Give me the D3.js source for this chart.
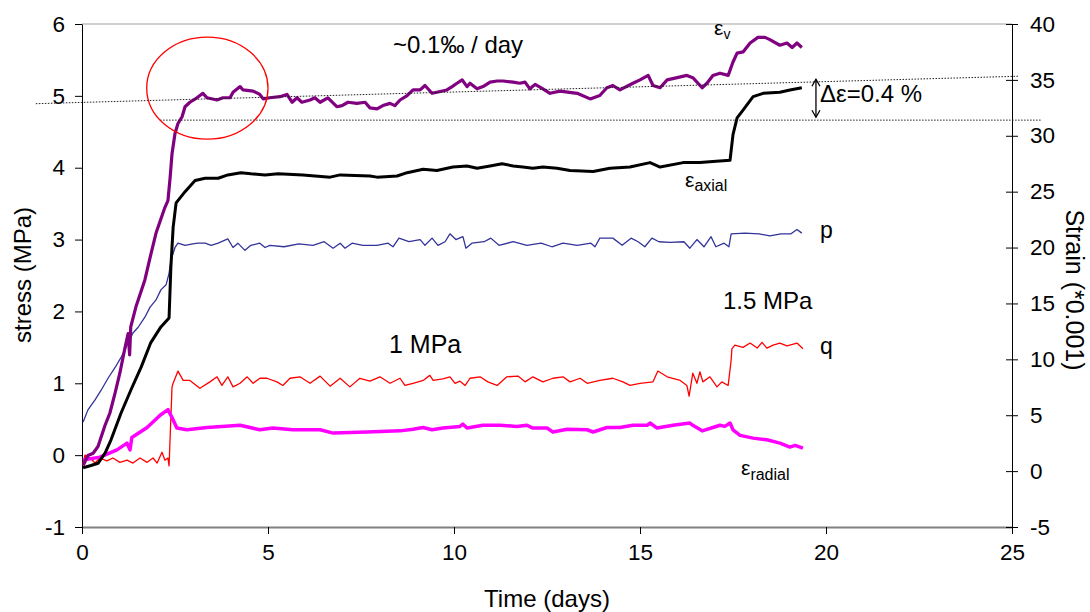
<!DOCTYPE html>
<html><head><meta charset="utf-8">
<script src="https://cdn.jsdelivr.net/npm/d3@7"></script>
<style>
body{margin:0;background:#fff}
svg{display:block}
text{font-family:"Liberation Sans",Arial,sans-serif;fill:#000}
</style>
</head><body>
<svg id="chart" width="1090" height="612"></svg>
<script>
// ---------- data ----------
const xTicks = [0, 5, 10, 15, 20, 25];
const stressTicks = [-1, 0, 1, 2, 3, 4, 5, 6];
const strainTicks = [-5, 0, 5, 10, 15, 20, 25, 30, 35, 40];

// volumetric strain (*0.001), right axis
const epsV = [[0.03,0.5],[0.16,1.4],[0.30,1.6],[0.43,2.2],[0.51,3.0],[0.62,4.1],[0.75,5.2],[0.89,7.0],[1.02,8.8],[1.16,11.1],[1.24,12.3],[1.28,10.4],[1.31,12.9],[1.45,14.7],[1.69,17.1],[1.83,19.1],[1.99,21.3],[2.23,23.6],[2.31,24.2],[2.37,26.3],[2.42,28.4],[2.50,30.2],[2.58,31.1],[2.69,31.7],[2.77,32.6],[2.90,33.0],[3.09,33.4],[3.25,33.8],[3.36,33.4],[3.63,33.2],[3.79,33.4],[3.98,33.4],[4.06,33.9],[4.25,34.4],[4.33,34.1],[4.60,34.0],[4.78,33.7],[4.87,33.3],[5.05,33.4],[5.32,33.5],[5.51,33.7],[5.65,33.0],[5.78,33.4],[5.91,33.0],[6.13,33.2],[6.26,33.4],[6.40,33.0],[6.61,33.4],[6.85,32.6],[6.99,32.7],[7.15,33.0],[7.39,32.9],[7.61,33.0],[7.74,32.5],[7.93,32.4],[8.09,32.7],[8.28,32.9],[8.41,32.7],[8.55,33.2],[8.74,33.6],[8.90,34.1],[9.09,34.1],[9.22,34.5],[9.41,33.8],[9.54,33.9],[9.81,34.1],[9.95,34.4],[10.08,34.7],[10.22,35.0],[10.35,34.4],[10.43,34.7],[10.62,34.2],[10.78,34.4],[10.97,34.8],[11.16,34.9],[11.32,34.9],[11.59,34.8],[11.77,34.7],[11.91,34.8],[12.04,34.2],[12.18,34.6],[12.39,34.2],[12.58,33.8],[12.85,34.0],[13.31,33.8],[13.66,33.3],[13.92,33.6],[14.11,34.3],[14.27,34.5],[14.46,34.1],[14.81,34.7],[15.00,35.0],[15.22,35.4],[15.35,34.5],[15.54,34.3],[15.73,35.0],[16.00,35.2],[16.26,35.4],[16.42,35.2],[16.67,34.3],[16.80,34.7],[16.96,35.4],[17.15,35.6],[17.37,35.4],[17.50,36.6],[17.61,37.4],[17.77,37.5],[17.96,38.3],[18.17,38.8],[18.36,38.8],[18.49,38.6],[18.76,38.1],[18.95,38.3],[19.09,37.9],[19.22,38.3],[19.35,37.9]];

// axial strain (*0.001), right axis
const epsAxial = [[0.03,0.3],[0.24,0.5],[0.43,0.7],[0.62,1.6],[0.78,2.8],[1.05,5.2],[1.32,7.3],[1.59,9.3],[1.85,11.5],[2.12,12.9],[2.34,13.7],[2.39,18.3],[2.45,21.8],[2.53,24.0],[2.77,25.0],[3.04,26.0],[3.31,26.2],[3.66,26.2],[3.92,26.5],[4.27,26.7],[4.54,26.6],[4.92,26.5],[5.27,26.6],[5.94,26.5],[6.67,26.3],[6.94,26.5],[7.74,26.4],[7.93,26.3],[8.47,26.4],[8.74,26.7],[9.17,27.0],[9.54,26.9],[9.97,27.2],[10.35,27.3],[10.62,27.1],[10.97,27.3],[11.29,27.5],[11.59,27.3],[11.85,27.2],[12.12,27.1],[12.39,27.2],[12.77,27.1],[13.12,26.9],[13.74,26.8],[14.19,27.1],[14.73,27.2],[15.27,27.6],[15.54,27.2],[16.16,27.6],[16.61,27.6],[16.96,27.7],[17.42,27.8],[17.50,30.1],[17.61,31.6],[17.77,32.3],[18.04,33.5],[18.31,33.8],[18.76,33.9],[19.03,34.1],[19.35,34.3]];

// radial strain (*0.001), right axis
const epsRadial = [[0.03,1.0],[0.48,1.25],[0.94,1.9],[1.21,2.5],[1.29,1.9],[1.34,3.0],[1.75,3.9],[2.10,5.0],[2.31,5.5],[2.42,4.8],[2.55,3.85],[2.82,3.7],[3.36,3.9],[4.25,4.1],[4.78,3.7],[5.13,3.85],[5.67,3.7],[6.40,3.7],[6.75,3.4],[7.66,3.5],[8.55,3.6],[8.90,3.75],[9.17,3.9],[9.41,3.7],[9.70,3.85],[10.16,4.0],[10.24,4.2],[10.35,3.85],[10.78,4.1],[11.24,4.1],[11.69,4.0],[11.96,4.1],[12.12,3.85],[12.50,3.85],[12.66,3.5],[13.04,3.75],[13.58,3.7],[13.74,3.5],[14.11,3.9],[14.46,3.9],[14.81,4.1],[15.19,4.1],[15.27,4.3],[15.46,3.85],[15.89,4.1],[16.34,4.3],[16.42,4.1],[16.67,3.6],[16.96,3.9],[17.15,4.1],[17.28,4.0],[17.42,4.3],[17.50,3.7],[17.69,3.2],[18.04,2.95],[18.41,2.8],[18.76,2.5],[19.03,2.15],[19.17,2.3],[19.38,2.05]];

// mean stress p (MPa), left axis
const pStress = [[0.03,0.46],[0.16,0.63],[0.35,0.77],[0.51,0.90],[0.70,1.07],[0.89,1.22],[1.05,1.36],[1.24,1.56],[1.37,1.70],[1.51,1.78],[1.69,1.92],[1.83,2.06],[1.99,2.16],[2.12,2.30],[2.26,2.37],[2.34,2.53],[2.39,2.71],[2.50,2.89],[2.58,2.95],[2.77,2.92],[2.98,2.94],[3.12,2.95],[3.31,2.95],[3.47,2.92],[3.66,2.95],[3.92,3.01],[4.06,2.89],[4.19,2.95],[4.38,2.85],[4.54,2.92],[4.78,2.95],[4.92,2.89],[5.05,2.92],[5.43,2.90],[5.83,2.94],[6.21,2.92],[6.51,2.97],[6.75,2.88],[6.94,2.95],[7.07,2.88],[7.26,2.95],[7.55,2.92],[7.93,2.92],[8.23,2.95],[8.36,2.90],[8.52,3.02],[8.79,2.97],[9.09,3.00],[9.22,2.92],[9.41,3.02],[9.57,2.92],[9.76,2.97],[9.89,3.08],[10.05,3.00],[10.24,3.04],[10.32,2.88],[10.48,2.95],[10.81,2.97],[10.99,3.02],[11.21,2.92],[11.59,2.97],[11.96,2.92],[12.34,2.95],[12.63,2.90],[12.93,2.95],[13.31,2.92],[13.68,2.95],[13.79,2.90],[13.92,3.02],[14.27,3.02],[14.52,2.92],[14.76,3.02],[14.95,2.97],[15.13,2.90],[15.32,3.02],[15.51,2.97],[15.81,2.96],[16.18,2.97],[16.34,2.88],[16.53,3.00],[16.72,2.90],[16.91,3.04],[17.04,2.90],[17.26,2.95],[17.39,2.90],[17.45,3.08],[17.82,3.09],[18.20,3.08],[18.49,3.05],[18.79,3.08],[19.06,3.08],[19.22,3.14],[19.35,3.09]];

// deviatoric stress q (MPa), left axis
const qStress = [[0.03,-0.11],[0.08,0.0],[0.22,-0.04],[0.35,-0.11],[0.48,-0.04],[0.67,-0.08],[0.83,-0.04],[1.02,-0.10],[1.21,-0.07],[1.37,-0.11],[1.56,-0.04],[1.75,-0.10],[1.91,-0.04],[2.02,-0.11],[2.15,0.04],[2.23,-0.07],[2.31,-0.04],[2.34,-0.15],[2.39,0.53],[2.42,0.95],[2.45,1.00],[2.58,1.17],[2.72,1.04],[2.90,1.04],[3.17,0.93],[3.44,1.02],[3.63,1.09],[3.76,0.97],[3.92,1.09],[4.06,0.95],[4.25,1.00],[4.44,1.09],[4.60,1.00],[4.78,1.07],[4.97,1.07],[5.24,1.02],[5.40,0.97],[5.59,1.07],[5.86,1.09],[6.13,1.00],[6.40,1.10],[6.67,0.96],[6.94,1.07],[7.20,0.95],[7.47,1.07],[7.74,1.03],[8.01,1.09],[8.28,1.00],[8.55,1.07],[8.68,0.97],[8.90,1.00],[9.17,1.04],[9.35,1.11],[9.44,1.04],[9.70,1.06],[9.89,1.09],[10.03,1.00],[10.16,1.03],[10.30,0.97],[10.43,1.07],[10.70,1.09],[10.91,1.02],[11.16,0.97],[11.42,1.09],[11.72,1.10],[11.91,1.02],[12.12,1.09],[12.39,1.02],[12.66,1.07],[12.93,1.09],[13.12,1.02],[13.39,1.07],[13.58,1.00],[13.92,1.04],[14.27,1.07],[14.54,1.02],[14.73,0.97],[15.00,1.00],[15.35,1.02],[15.48,1.17],[15.73,1.09],[16.08,1.04],[16.26,0.97],[16.32,0.82],[16.42,1.14],[16.53,1.00],[16.61,1.16],[16.69,1.02],[16.88,1.09],[17.07,0.95],[17.20,1.02],[17.37,0.97],[17.45,1.32],[17.47,1.48],[17.55,1.53],[17.77,1.50],[17.96,1.56],[18.15,1.49],[18.28,1.57],[18.41,1.49],[18.58,1.53],[18.76,1.56],[18.95,1.52],[19.22,1.56],[19.38,1.48]];

// ---------- layout ----------
const svg = d3.select("#chart");
const x = d3.scaleLinear().domain([0, 25]).range([82, 1012]);
const yL = d3.scaleLinear().domain([-1, 6]).range([527, 24]);
const yR = d3.scaleLinear().domain([-5, 40]).range([527, 24]);
const FS = 22.5;
const FF = "Liberation Sans, Arial, sans-serif";
const fmt = d => String(d);

// top border
svg.append("line").attr("x1", x(0)).attr("x2", x(25)).attr("y1", yL(6)).attr("y2", yL(6))
  .attr("stroke", "#c0c0c0").attr("stroke-width", 1.5);

// bottom axis
const gx = svg.append("g").attr("transform", `translate(0,${yL(-1)})`)
  .call(d3.axisBottom(x).tickValues(xTicks).tickSize(7).tickSizeOuter(0).tickPadding(10).tickFormat(fmt));
gx.select(".domain").attr("stroke", "#808080").attr("stroke-width", 2);
gx.selectAll(".tick line").attr("stroke", "#000");
gx.selectAll("text").attr("font-size", FS).attr("font-family", FF);

// left axis
const gl = svg.append("g").attr("transform", `translate(${x(0)},0)`)
  .call(d3.axisLeft(yL).tickValues(stressTicks).tickSize(7).tickSizeOuter(0).tickPadding(10).tickFormat(fmt));
gl.select(".domain").attr("stroke", "#000");
gl.selectAll("text").attr("font-size", FS).attr("font-family", FF);

// right axis
const gr = svg.append("g").attr("transform", `translate(${x(25)},0)`)
  .call(d3.axisRight(yR).tickValues(strainTicks).tickSize(6).tickSizeOuter(0).tickPadding(12).tickFormat(fmt));
gr.select(".domain").attr("stroke", "#000");
gr.selectAll(".tick line").attr("x1", -6).attr("x2", 6);
gr.selectAll("text").attr("font-size", FS).attr("font-family", FF);

// axis titles
svg.append("text").attr("transform", "translate(31,275) rotate(-90)").attr("text-anchor", "middle")
  .attr("font-size", 24).text("stress (MPa)");
svg.append("text").attr("transform", "translate(1066,290) rotate(90)").attr("text-anchor", "middle")
  .attr("font-size", 25).text("Strain (*0.001)");
svg.append("text").attr("x", 547).attr("y", 607).attr("text-anchor", "middle")
  .attr("font-size", 24).text("Time (days)");

// ---------- series ----------
const lineL = d3.line().x(d => x(d[0])).y(d => yL(d[1]));
const lineR = d3.line().x(d => x(d[0])).y(d => yR(d[1]));
function draw(data, gen, color, w) {
  svg.append("path").datum(data).attr("d", gen).attr("fill", "none")
    .attr("stroke", color).attr("stroke-width", w).attr("stroke-linejoin", "round");
}
draw(pStress, lineL, "#333399", 1.3);
draw(qStress, lineL, "#ff0000", 1.3);
draw(epsRadial, lineR, "#ff00ff", 3.5);
draw(epsAxial, lineR, "#000000", 3);
draw(epsV, lineR, "#800080", 3.2);

// ---------- annotations ----------
// slanted creep trend line
svg.append("line").attr("x1", x(-1.24)).attr("y1", yR(32.87)).attr("x2", x(25.2)).attr("y2", yR(35.33))
  .attr("stroke", "#222").attr("stroke-width", 1).attr("stroke-dasharray", "1.5,1.5");
// horizontal reference line
svg.append("line").attr("x1", x(2.1)).attr("y1", yR(31.4)).attr("x2", x(25.8)).attr("y2", yR(31.4))
  .attr("stroke", "#222").attr("stroke-width", 1).attr("stroke-dasharray", "1.5,1.5");
// ellipse
svg.append("ellipse").attr("cx", x(3.37)).attr("cy", yR(34.26))
  .attr("rx", x(1.63) - x(0)).attr("ry", yR(0) - yR(4.56))
  .attr("fill", "none").attr("stroke", "#ff0000").attr("stroke-width", 1.3);
// double arrow
const ax = x(19.73), ay1 = yR(35.06), ay2 = yR(31.66);
svg.append("line").attr("x1", ax).attr("x2", ax).attr("y1", ay1).attr("y2", ay2).attr("stroke", "#000").attr("stroke-width", 1.3);
svg.append("path").attr("d", `M${ax-4},${ay1+7}L${ax},${ay1}L${ax+4},${ay1+7}M${ax-4},${ay2-7}L${ax},${ay2}L${ax+4},${ay2-7}`)
  .attr("fill", "none").attr("stroke", "#000").attr("stroke-width", 1.3);

// text labels
function label(px, py, main, sub, fs, subFs, dy) {
  const t = svg.append("text").attr("x", px).attr("y", py).attr("font-size", fs).text(main);
  if (sub) t.append("tspan").attr("font-size", subFs).attr("dy", dy).text(sub);
}
label(393, 53, "~0.1‰ / day", null, 24);
label(820, 102, "Δε=0.4 %", null, 24);
label(714, 35, "ε", "v", 21, 14, 4);
label(685, 187, "ε", "axial", 21, 16, 4);
label(741, 475, "ε", "radial", 21, 16, 5);
label(820, 238, "p", null, 23);
label(820, 354, "q", null, 23);
label(723, 309, "1.5 MPa", null, 24);
label(389, 353, "1 MPa", null, 25);
</script>
</body></html>
